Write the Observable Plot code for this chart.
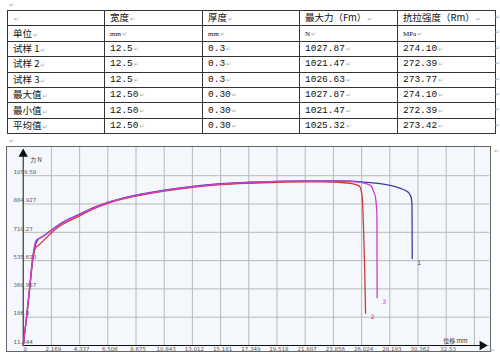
<!DOCTYPE html>
<html><head><meta charset="utf-8">
<script src="https://cdn.jsdelivr.net/npm/d3@7"></script>
<script src="https://cdn.jsdelivr.net/npm/@observablehq/plot@0.6"></script>
<style>
body{margin:0;background:#fff;width:500px;height:357px;position:relative;overflow:hidden;font-family:"Noto Sans CJK SC",sans-serif;}
#tbl{position:absolute;left:7px;top:10px;}
table{border-collapse:collapse;table-layout:fixed;width:488px;}
td{border:1px solid #333;height:14.4px;padding:0 0 0 5px;font-size:9.5px;line-height:10px;white-space:nowrap;overflow:hidden;color:#111;}
.num{font-family:"Liberation Mono",monospace;font-size:9.5px;}
.unit{font-family:"Liberation Serif",serif;font-size:7px;}
.pm{color:#aaa;font-family:"DejaVu Sans",sans-serif;font-size:6px;margin-left:1px;}
.mark{position:absolute;color:#aaa;font-family:"DejaVu Sans",sans-serif;font-size:6px;}
#chartbox{position:absolute;left:6px;top:146px;border:1px solid #666;width:483px;height:204px;}
#chartbox svg{display:block;}
</style></head>
<body>
<div id="tbl"></div>
<div id="chartbox"></div>
<script>
// ---- table data ----
const colHeaders = ["", "宽度", "厚度", "最大力（Fm）", "抗拉强度（Rm）"];
const units = ["单位", "mm", "mm", "N", "MPa"];
const rowLabels = ["试样 1", "试样 2", "试样 3", "最大值", "最小值", "平均值"];
const widths = ["12.5", "12.5", "12.5", "12.50", "12.50", "12.50"];
const thicknesses = ["0.3", "0.3", "0.3", "0.30", "0.30", "0.30"];
const maxForce = ["1027.87", "1021.47", "1026.63", "1027.87", "1021.47", "1025.32"];
const tensileStrength = ["274.10", "272.39", "273.77", "274.10", "272.39", "273.42"];

// ---- chart data ----
const xTicks = [0, 2.169, 4.337, 6.506, 8.675, 10.843, 13.012, 15.181, 17.349, 19.518, 21.687, 23.856, 26.024, 28.193, 30.362, 32.53];
const xGrid = [2.169, 4.337, 6.506, 8.675, 10.843, 13.012, 15.181, 17.349, 19.518, 21.687, 23.856, 26.024, 28.193, 30.362, 32.53, 34.699];
const yTicks = [11.644, 186.3, 360.957, 535.613, 710.27, 884.927, 1059.58];
const xDomain = [0, 35.86];
const yDomain = [11.644, 1233.6];
const seriesNames = ["1", "2", "3"];
const seriesColors = ["#3c3ca8", "#cc3a3a", "#d23cd2"];

const s1x = [0, 0.25, 0.5, 0.75, 0.95, 1.1, 1.3, 1.6, 2.169, 3.0, 4.337, 5.4, 6.506, 7.6, 8.675, 9.8, 10.843, 13.012, 15.181, 17.349, 19.518, 21.687, 23.0, 24.5, 26.024, 27.3, 28.193, 28.9, 29.4, 29.7, 29.85, 29.9, 29.92];
const s1y = [11.6, 180, 370, 560, 635, 662, 675, 690, 724, 770, 822, 862, 895, 920, 940, 956, 970, 994, 1010, 1019, 1025, 1027.3, 1027.87, 1027, 1022, 1012, 1000, 985, 968, 948, 920, 880, 548];
const s2x = [0, 0.25, 0.5, 0.75, 0.95, 1.2, 1.6, 2.169, 3.0, 4.337, 5.4, 6.506, 7.6, 8.675, 9.8, 10.843, 13.012, 15.181, 17.349, 19.518, 21.687, 23.0, 24.3, 25.3, 25.86, 26.07, 26.2, 26.27, 26.33];
const s2y = [11.6, 175, 360, 545, 615, 632, 662, 708, 758, 812, 855, 889, 915, 934, 950, 964, 988, 1004, 1013, 1019, 1021.47, 1021, 1018, 1010, 995, 927, 660, 455, 210];
const s3x = [0, 0.25, 0.5, 0.75, 0.9, 1.05, 1.2, 1.5, 2.169, 3.0, 4.337, 5.4, 6.506, 7.6, 8.675, 9.8, 10.843, 13.012, 15.181, 17.349, 19.518, 21.687, 23.856, 25.0, 26.0, 26.71, 26.96, 27.1, 27.2, 27.22];
const s3y = [11.6, 185, 375, 565, 640, 665, 672, 684, 722, 768, 820, 860, 893, 918, 938, 954, 968, 992, 1008, 1018, 1024, 1026.3, 1026.63, 1025, 1018, 1000, 960, 920, 820, 307];

// ---- build table ----
const pm = '<span class="pm">↵</span>';
let html = "<table><colgroup><col style='width:97px'><col style='width:98px'><col style='width:97px'><col style='width:98px'><col style='width:98px'></colgroup>";
html += "<tr>" + colHeaders.map(h => `<td>${h}${pm}</td>`).join("") + "</tr>";
html += "<tr>" + units.map((u, i) => i === 0 ? `<td>${u}${pm}</td>` : `<td class="unit">${u}${pm}</td>`).join("") + "</tr>";
rowLabels.forEach((r, i) => {
  html += `<tr><td>${r}${pm}</td><td class="num">${widths[i]}${pm}</td><td class="num">${thicknesses[i]}${pm}</td><td class="num">${maxForce[i]}${pm}</td><td class="num">${tensileStrength[i]}${pm}</td></tr>`;
});
html += "</table>";
document.getElementById("tbl").innerHTML = html;
const marks = [[9, 1], [9, 137], [494, 147], [490, 346]];
for (let k = 0; k < 8; k++) marks.push([495, 13 + k * 15.4]);
marks.forEach(([l, t]) => { const s = document.createElement("span"); s.className = "mark"; s.style.left = l + "px"; s.style.top = t + "px"; s.textContent = "↵"; document.body.appendChild(s); });

// ---- chart ----
const rows = [];
[[s1x, s1y], [s2x, s2y], [s3x, s3y]].forEach(([xs, ys], i) => xs.forEach((x, j) => rows.push({series: seriesNames[i], x, y: ys[j]})));
const ends = [[s1x, s1y], [s2x, s2y], [s3x, s3y]].map(([xs, ys], i) => ({series: seriesNames[i], x: xs[xs.length - 1], y: ys[ys.length - 1], color: seriesColors[i]}));

const chart = Plot.plot({
  width: 483, height: 204,
  marginLeft: 15.7, marginRight: 1, marginTop: 0, marginBottom: 6,
  x: {domain: xDomain, axis: null},
  y: {domain: yDomain, axis: null},
  color: {domain: seriesNames, range: seriesColors},
  style: {background: "#f4f7fb", fontFamily: "DejaVu Sans"},
  marks: [
    Plot.gridY(yTicks, {stroke: "#b8b8b8", strokeOpacity: 1}),
    Plot.gridX(xGrid, {stroke: "#b8b8b8", strokeOpacity: 1}),
    Plot.ruleY([yDomain[0]], {x1: 0, x2: xDomain[1] - 0.4, stroke: "#111"}),
    Plot.ruleX([0], {y1: yDomain[0], y2: yDomain[1] - 40, stroke: "#111"}),
    Plot.dot([{x: 0, y: yDomain[1] - 40}], {x: "x", y: "y", symbol: "triangle2", r: 4.5, fill: "#111"}),
    Plot.dot([{x: xDomain[1] - 0.55, y: yDomain[0]}], {x: "x", y: "y", symbol: "triangle2", r: 4.5, rotate: 90, fill: "#111"}),
    Plot.line(rows, {x: "x", y: "y", z: "series", stroke: "series", strokeWidth: 1.3, curve: "monotone-x"}),
    Plot.text(ends, {x: "x", y: "y", text: "series", fill: "color", dx: 7, dy: 4, fontSize: 6}),
    Plot.text(yTicks, {x: 0, y: d => d, text: d => String(d), dx: -9.7, dy: -3.5, textAnchor: "start", fontSize: 5.5, fill: "#555"}),
    Plot.text(xTicks, {x: d => d, y: yDomain[0], text: d => String(d), dx: 2, dy: 4, fontSize: 5.5, fill: "#555"}),
    Plot.text(["力 N"], {frameAnchor: "top-left", dx: 7, dy: 10, text: d => d, textAnchor: "start", fontSize: 6, fill: "#333", fontFamily: "Noto Sans CJK SC"}),
    Plot.text(["位移 mm"], {frameAnchor: "top-left", dx: 420, dy: 191, text: d => d, textAnchor: "start", fontSize: 6, fill: "#333", fontFamily: "Noto Sans CJK SC"})
  ]
});
document.getElementById("chartbox").appendChild(chart);
</script>
</body></html>
